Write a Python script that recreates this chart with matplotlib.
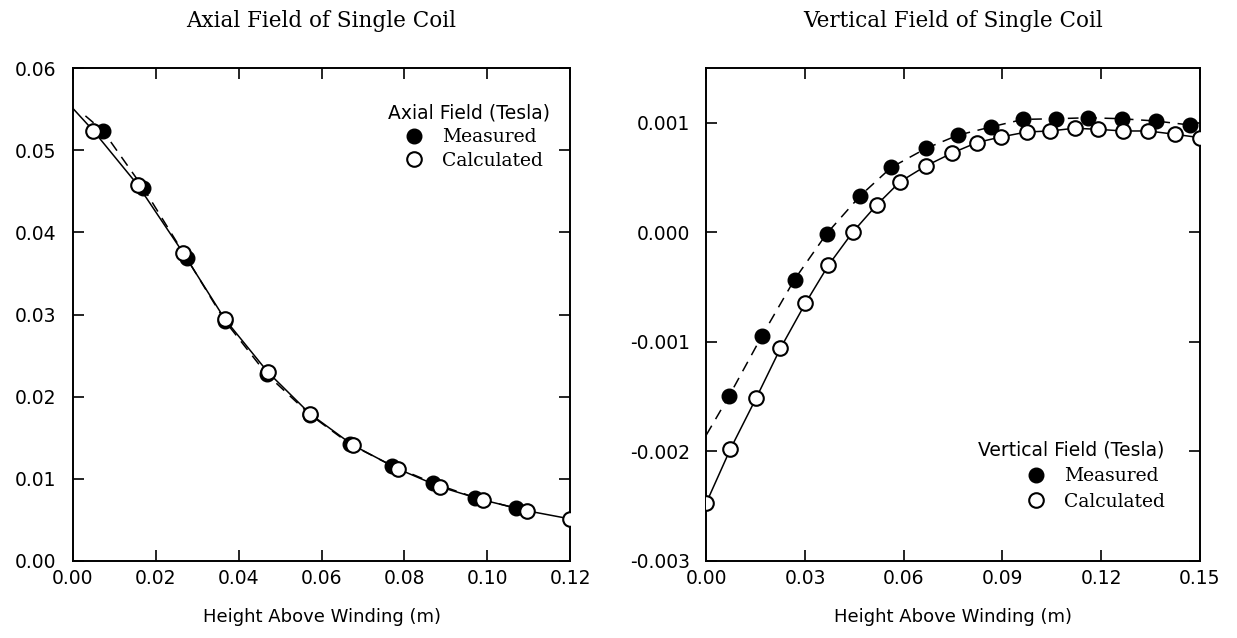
import matplotlib
matplotlib.use("Agg")
import matplotlib.pyplot as plt
from matplotlib.ticker import FormatStrFormatter

plt.rcParams["font.family"] = "DejaVu Sans"
plt.rcParams["axes.unicode_minus"] = False

# axial field (left panel)
axial_meas_x = [0.0072, 0.0170, 0.0274, 0.0367, 0.0468, 0.0572, 0.0669, 0.0769, 0.0868, 0.0970, 0.1069]
axial_meas_y = [0.0524, 0.0454, 0.0369, 0.0292, 0.0227, 0.0178, 0.0142, 0.0116, 0.0095, 0.0077, 0.0064]
axial_calc_x = [0.0049, 0.0156, 0.0266, 0.0367, 0.0470, 0.0572, 0.0675, 0.0784, 0.0886, 0.0990, 0.1095, 0.1200]
axial_calc_y = [0.0524, 0.0458, 0.0375, 0.0294, 0.0230, 0.0179, 0.0141, 0.0112, 0.0090, 0.0074, 0.0061, 0.0051]
# curve ends that run past the markers
axial_calc_start = (0.0, 0.0551)
axial_meas_start = (0.003, 0.0542)

# vertical field (right panel)
vert_meas_x = [0.0070, 0.0169, 0.0268, 0.0366, 0.0468, 0.0562, 0.0667, 0.0764, 0.0865,
               0.0963, 0.1063, 0.1161, 0.1262, 0.1366, 0.1469]
vert_meas_y = [-0.00149, -0.000945, -0.00043, -0.00001, 0.000336, 0.000594, 0.000767, 0.000888, 0.000964,
               0.001033, 0.001039, 0.001048, 0.001039, 0.001018, 0.000982]
vert_calc_x = [0.0, 0.0073, 0.0152, 0.0225, 0.0301, 0.0371, 0.0445, 0.0518, 0.0589, 0.0668, 0.0746,
               0.0822, 0.0896, 0.0974, 0.1044, 0.1120, 0.1191, 0.1267, 0.1343, 0.1424, 0.1500]
vert_calc_y = [-0.00247, -0.00198, -0.00151, -0.00106, -0.000648, -0.00030, 0.000003, 0.000252, 0.000464,
               0.000609, 0.000724, 0.000821, 0.000873, 0.000918, 0.000927, 0.000952, 0.000942, 0.000927,
               0.000927, 0.000897, 0.000866]
vert_meas_start = (0.0, -0.00185)

fig = plt.figure(figsize=(12.37, 6.38), dpi=100)
ax1 = fig.add_axes([0.059, 0.121, 0.402, 0.772])
ax2 = fig.add_axes([0.571, 0.121, 0.399, 0.772])

ms = 10.5
dash = (7, 5)


def draw(ax, mx, my, cx, cy, m0, c0):
    ax.plot([m0[0]] + mx, [m0[1]] + my, color="k", lw=1.1, dashes=dash)
    ax.plot(([c0[0]] if c0 else []) + cx, ([c0[1]] if c0 else []) + cy, color="k", lw=1.1)
    hm, = ax.plot(mx, my, "o", ms=ms, mfc="k", mec="k", ls="none", zorder=3)
    hc, = ax.plot(cx, cy, "o", ms=ms, mfc="white", mec="k", mew=1.5, ls="none", zorder=4)
    return hm, hc


def style(ax, xmax, xstep, ylo, yhi, ystep, yfmt):
    import numpy as np
    ax.set_xlim(0, xmax)
    ax.set_ylim(ylo, yhi)
    ax.set_xticks(np.round(np.arange(0, xmax + 1e-9, xstep), 4))
    ax.set_yticks(np.round(np.arange(ylo, yhi + 1e-9, ystep), 4))
    ax.xaxis.set_major_formatter(FormatStrFormatter("%.2f"))
    ax.yaxis.set_major_formatter(FormatStrFormatter(yfmt))
    ax.tick_params(direction="in", length=8, width=1.2, top=True, right=True, labelsize=13.5)
    ax.tick_params(axis="y", pad=12)
    ax.tick_params(axis="x", pad=6)
    for s in ax.spines.values():
        s.set_linewidth(1.4)
    ax.set_xlabel("Height Above Winding (m)", fontsize=13, labelpad=14)


hm, hc = draw(ax1, axial_meas_x, axial_meas_y, axial_calc_x, axial_calc_y, axial_meas_start, axial_calc_start)
style(ax1, 0.12, 0.02, 0.0, 0.06, 0.01, "%.2f")
ax1.set_title("Axial Field of Single Coil", family="DejaVu Serif", fontsize=15.5, pad=30)
ax1.legend([hm, hc], ["Measured", "Calculated"], title="Axial Field (Tesla)",
           loc="upper right", bbox_to_anchor=(0.985, 0.955), frameon=False,
           prop={"family": "DejaVu Serif", "size": 13.5}, title_fontproperties={"size": 13.5},
           handletextpad=0.5, labelspacing=0.3, borderpad=0.2)

hm2, hc2 = draw(ax2, vert_meas_x, vert_meas_y, vert_calc_x, vert_calc_y, vert_meas_start, None)
style(ax2, 0.15, 0.03, -0.003, 0.0015, 0.001, "%.3f")
ax2.set_yticks([-0.003, -0.002, -0.001, 0.0, 0.001])
ax2.set_title("Vertical Field of Single Coil", family="DejaVu Serif", fontsize=15.5, pad=30)
ax2.legend([hm2, hc2], ["Measured", "Calculated"], title="Vertical Field (Tesla)",
           loc="upper right", bbox_to_anchor=(0.955, 0.27), frameon=False, alignment="right",
           prop={"family": "DejaVu Serif", "size": 13.5}, title_fontproperties={"size": 13.5},
           handletextpad=0.5, labelspacing=0.4, borderpad=0.2)

fig.savefig("out.png", dpi=100)
